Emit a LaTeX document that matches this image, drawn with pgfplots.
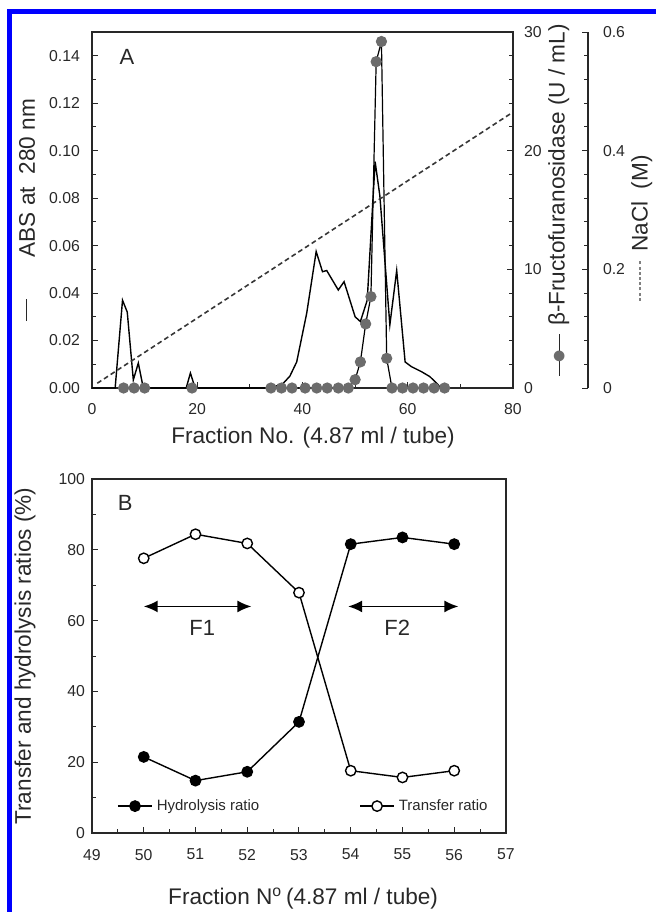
\documentclass[border=0pt]{standalone}
\usepackage{fontspec}
\setmainfont{Liberation Sans}
\newfontfamily\symfont{DejaVu Sans}
\usepackage{pgfplots}
\pgfplotsset{compat=1.18}
\usetikzlibrary{arrows.meta}

\definecolor{enzgray}{RGB}{108,108,108}
\definecolor{axgray}{RGB}{40,40,40}
\definecolor{naclgray}{RGB}{55,55,55}

\newcommand{\labfont}{\fontsize{11.3}{13}\selectfont}
\newcommand{\tickfont}{\fontsize{7.9}{9}\selectfont}

\pgfplotsset{
  panel/.style={
    scale only axis,
    clip=false,
    axis line style={line width=0.6pt, axgray},
    every tick/.style={line width=0.5pt, axgray},
    tick align=inside,
    major tick length=3pt,
    minor tick length=1.8pt,
    tick label style={font=\tickfont, text=axgray},
    /pgf/number format/assume math mode=true,
    scaled ticks=false,
  },
  ylab/.style={every axis y label/.style={at={(axis description cs:#1)}, rotate=90, anchor=center, font=\labfont, text=axgray}},
  xlab/.style={every axis x label/.style={at={(axis description cs:#1)}, anchor=center, font=\labfont, text=axgray}},
}

\begin{document}
\begin{tikzpicture}
\useasboundingbox (0,0) rectangle (328pt,-456pt);
\draw[blue, line width=2.5pt] (340pt,-5.9pt) -- (4.9pt,-5.9pt) -- (4.9pt,-470pt);

% panel A: absorbance at 280 nm
\begin{axis}[panel, at={(46pt,-194pt)}, anchor=south west,
  width=210.5pt, height=178pt,
  xmin=0, xmax=80, ymin=0, ymax=0.15,
  xtick={0,20,40,60,80}, minor x tick num=1,
  ytick={0,0.02,0.04,0.06,0.08,0.10,0.12,0.14}, minor y tick num=1,
  xtick pos=left, ytick pos=left,
  xticklabel style={yshift=-4pt},
  yticklabel style={xshift=-2.5pt, /pgf/number format/fixed, /pgf/number format/fixed zerofill, /pgf/number format/precision=2},
  xlabel={Fraction No. (4.87 ml / tube)},
  xlab={0.525,-0.1404},
  ylabel={\rule[0.33em]{11pt}{0.6pt}\hspace{21pt}ABS at\ \ 280 nm},
  ylab={-0.1544,0.5},
]
\addplot[black, line width=0.7pt] coordinates {
  (0,0) (4.4,0) (5.8,0.037) (6.7,0.032) (7.85,0.0034) (8.8,0.0105) (9.75,0)
  (17.9,0) (18.7,0.0063) (19.6,0)
  (34,0) (36.35,0.002) (37.6,0.005) (38.9,0.011) (40.8,0.0315) (42.6,0.0575)
  (43.8,0.049) (44.6,0.0495) (46.8,0.0413) (47.9,0.0448) (50,0.030) (51,0.028)
  (52.3,0.037) (53.8,0.0954) (54.7,0.081) (56.6,0.0266) (57.9,0.0495)
  (59.5,0.011) (60.7,0.009) (62.6,0.0069) (64.2,0.0048) (65.8,0.0013) (66.2,0)
};
\node[font=\fontsize{11}{13}\selectfont, text=axgray] at (rel axis cs:0.083,0.93) {A};
\end{axis}

% NaCl gradient, plotted on its own scale
\begin{axis}[panel, at={(46pt,-194pt)}, anchor=south west,
  width=210.5pt, height=178pt, hide axis,
  xmin=0, xmax=80, ymin=0, ymax=0.6]
\addplot[naclgray, line width=0.8pt, dash pattern=on 2.4pt off 1.6pt] coordinates {(1,0.008) (80,0.465)};
\end{axis}

% enzyme activity
\begin{axis}[panel, at={(46pt,-194pt)}, anchor=south west,
  width=210.5pt, height=178pt,
  xmin=0, xmax=80, ymin=0, ymax=30,
  axis y line*=right, axis x line=none,
  ytick={0,10,20,30}, minor y tick num=4,
  yticklabel style={xshift=2pt},
  ylabel={\makebox[21pt][l]{\rlap{$\vcenter{\hbox{\rule{21pt}{0.6pt}}}$}\hspace{6.5pt}$\vcenter{\hbox{\textcolor{enzgray}{\fontsize{7}{7}\symfont ●}}}$}\hspace{4pt}β-Fructofuranosidase (U / mL)},
  ylab={1.109,0.528},
]
\addplot[black, line width=0.6pt, mark=*, mark size=2.5pt, mark options={draw=enzgray, fill=enzgray}] coordinates {
  (6,0) (8,0) (10,0) (19,0) (34,0) (36,0) (38,0) (40.5,0) (42.7,0) (44.7,0)
  (46.8,0) (48.7,0) (50,0.7) (51,2.2) (52,5.4) (53,7.7) (54,27.5) (55,29.2)
  (56,2.5) (57,0) (59,0) (61,0) (63,0) (65,0) (67,0)
};
\end{axis}

% offset NaCl axis
\begin{axis}[panel, at={(83.5pt,-194pt)}, anchor=south west,
  width=210.5pt, height=178pt,
  xmin=0, xmax=80, ymin=0, ymax=0.6,
  axis y line*=right, axis x line=none,
  ytick={0,0.2,0.4,0.6}, minor y tick num=4,
  yticklabel style={xshift=4pt, /pgf/number format/fixed},
  ylabel={\textcolor{gray}{\leaders\hbox to 2.6pt{\hss\rule[0.3em]{1.5pt}{0.9pt}\hss}\hskip 22pt}\hspace{3pt}NaCl\ \ (M)},
  ylab={1.128,0.448},
]
\end{axis}

% panel B: transfer and hydrolysis ratios
\begin{axis}[panel, at={(46pt,-416.5pt)}, anchor=south west,
  width=207pt, height=177pt,
  xmin=49, xmax=57, ymin=0, ymax=100,
  xtick={49,50,51,52,53,54,55,56,57}, minor x tick num=1,
  ytick={0,20,40,60,80,100}, minor y tick num=1,
  xtick pos=left, ytick pos=left,
  xticklabel style={yshift=-4.5pt},
  xlabel={Fraction N\textsuperscript{o}\,(4.87 ml / tube)},
  xlab={0.51,-0.185},
  ylabel={Transfer and hydrolysis ratios (\%)},
  ylab={-0.1618,0.5},
  legend columns=2,
  legend style={at={(axis description cs:0.06,0.076)}, anchor=west, draw=none, fill=none,
    font=\fontsize{7.5}{9}\selectfont, inner sep=0pt, text=axgray,
    /tikz/every even column/.append style={column sep=48pt}},
]
\addplot[black, line width=0.7pt, mark=*, mark size=2.6pt, mark options={fill=black}] coordinates {
  (50,21.5) (51,14.8) (52,17.3) (53,31.4) (54,81.6) (55,83.5) (56,81.6)
};
\addlegendentry{Hydrolysis ratio}
\addplot[black, line width=0.7pt, mark=*, mark size=2.6pt, mark options={fill=white}] coordinates {
  (50,77.6) (51,84.4) (52,81.8) (53,67.9) (54,17.6) (55,15.7) (56,17.6)
};
\addlegendentry{Transfer ratio}
\draw[{Latex[length=7pt,width=6pt]}-{Latex[length=7pt,width=6pt]}, line width=0.8pt] (axis cs:50,64) -- (axis cs:52.08,64);
\draw[{Latex[length=7pt,width=6pt]}-{Latex[length=7pt,width=6pt]}, line width=0.8pt] (axis cs:53.95,64) -- (axis cs:56.08,64);
\node[font=\fontsize{11}{13}\selectfont, text=axgray] at (axis cs:51.13,58) {F1};
\node[font=\fontsize{11}{13}\selectfont, text=axgray] at (axis cs:54.9,58) {F2};
\node[font=\fontsize{11}{13}\selectfont, text=axgray] at (rel axis cs:0.08,0.932) {B};
\end{axis}
\end{tikzpicture}
\end{document}
